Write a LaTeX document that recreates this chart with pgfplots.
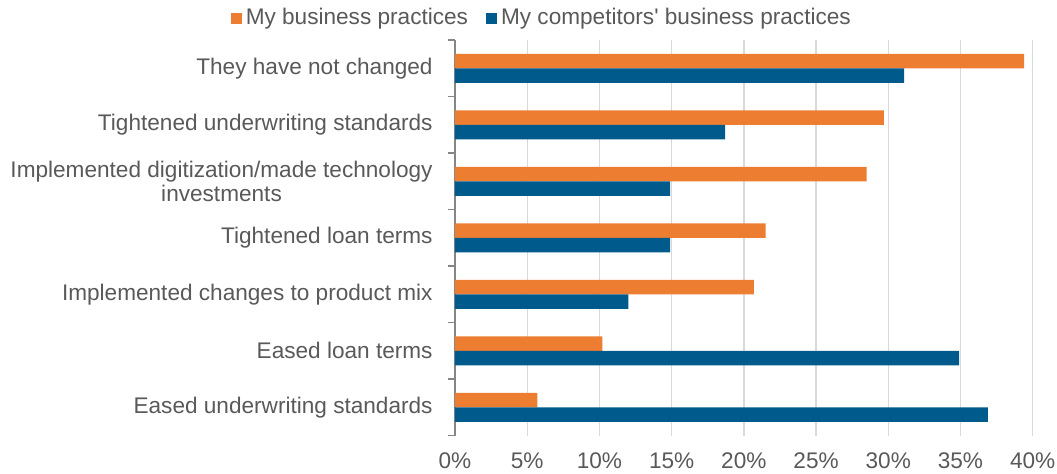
\documentclass[border=0pt]{standalone}
\usepackage{pgfplots}
\pgfplotsset{compat=1.18}
\usepackage{fontspec}
\setmainfont{Liberation Sans}
\definecolor{myorange}{RGB}{237,125,49}
\definecolor{myblue}{RGB}{0,90,140}
\definecolor{txtgray}{RGB}{89,89,89}
\definecolor{gridgray}{RGB}{217,217,217}
\definecolor{axgray}{RGB}{134,134,134}
\begin{document}
\fontsize{11.3}{12.3}\selectfont
\begin{tikzpicture}
\path[use as bounding box] (-227.5pt,-19pt) rectangle (301pt,217.85pt);
\begin{axis}[
  at={(0pt,0pt)}, anchor=south west,
  scale only axis, width=288.85pt, height=197.85pt,
  xbar=0pt, bar width=7.25pt,
  xmin=0, xmax=40, ymin=-0.5, ymax=6.5, y dir=reverse,
  axis x line*=bottom, axis y line*=left,
  axis line style={-},
  x axis line style={draw=none},
  y axis line style={draw=axgray, line width=0.7pt},
  xtick={0,5,...,40},
  xticklabels={0\%,5\%,10\%,15\%,20\%,25\%,30\%,35\%,40\%},
  x tick style={draw=none},
  xmajorgrids, grid style={gridgray, line width=0.7pt},
  ytick={0,...,6},
  yticklabels={{They have not changed},{Tightened underwriting standards},{Implemented digitization/made technology\\investments},{Tightened loan terms},{Implemented changes to product mix},{Eased loan terms},{Eased underwriting standards}},
  minor ytick={-0.5,0.5,...,6.5},
  major tick length=0pt, minor tick length=3.5pt, tick align=outside,
  y tick style={draw=axgray, line width=0.7pt},
  yticklabel style={font=\fontsize{11.3}{12.3}\selectfont, text=txtgray, align=center, inner sep=0pt, xshift=-11pt},
  xticklabel style={font=\fontsize{11.3}{12.3}\selectfont, text=txtgray, inner sep=0pt, yshift=-8.5pt},
  legend style={at={(0.152,1.0556)}, anchor=center, draw=none, fill=none, legend columns=2,
    font=\fontsize{11.3}{12.3}\selectfont, text=txtgray, inner sep=0pt,
    /tikz/every even column/.append style={column sep=7pt}},
  legend image code/.code={\fill[#1] (0pt,-2.75pt) rectangle (5.5pt,2.75pt);},
]
\addplot[fill=myorange, draw=none, bar shift=3.625pt] coordinates {(39.4,0) (29.7,1) (28.5,2) (21.5,3) (20.7,4) (10.2,5) (5.7,6)};
\addplot[fill=myblue, draw=none, bar shift=-3.625pt] coordinates {(31.1,0) (18.7,1) (14.9,2) (14.9,3) (12.0,4) (34.9,5) (36.9,6)};
\legend{My business practices, My competitors\textquotesingle\ business practices}
\end{axis}
\end{tikzpicture}
\end{document}
